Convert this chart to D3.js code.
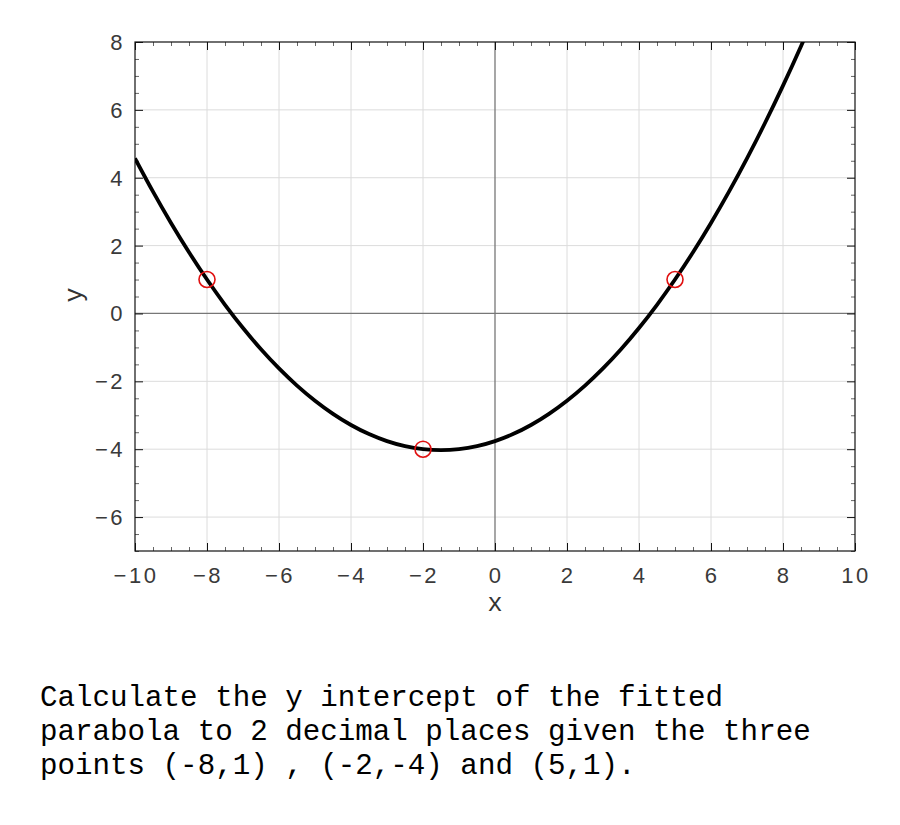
<!DOCTYPE html>
<html><head><meta charset="utf-8">
<script src="https://cdn.jsdelivr.net/npm/d3@7/dist/d3.min.js"></script>
<style>body{margin:0;background:#fff}svg{display:block}</style>
</head><body>
<svg id="c" width="900" height="825"></svg>
<script>
// Data
const curveX = [-10,-9.5,-9,-8.5,-8,-7.5,-7,-6.5,-6,-5.5,-5,-4.5,-4,-3.5,-3,-2.5,-2,-1.5,-1,-0.5,0,0.5,1,1.5,2,2.5,3,3.5,4,4.5,5,5.5,6,6.5,7,7.5,8,8.5,9];
const curveY = [4.571,3.589,2.667,1.804,1,0.256,-0.429,-1.054,-1.619,-2.125,-2.571,-2.958,-3.286,-3.554,-3.762,-3.911,-4,-4.030,-4,-3.911,-3.762,-3.554,-3.286,-2.958,-2.571,-2.125,-1.619,-1.054,-0.429,0.256,1,1.804,2.667,3.589,4.571,5.613,6.714,7.875,9.095];
const pointX = [-8,-2,5];
const pointY = [1,-4,1];
const xTicks = [-10,-8,-6,-4,-2,0,2,4,6,8,10];
const yTicks = [-6,-4,-2,0,2,4,6,8];
const questionLines = [
  "Calculate the y intercept of the fitted",
  "parabola to 2 decimal places given the three",
  "points (-8,1) , (-2,-4) and (5,1)."
];

const svg = d3.select("#c");
const L=135, R=855, T=42, B=551;
const x = d3.scaleLinear().domain([-10,10]).range([L,R]);
const y = d3.scaleLinear().domain([-7,8]).range([B,T]);
const minorX = d3.range(-10,10.01,0.5).filter(v=>Math.abs(v%2)>1e-9);
const minorY = d3.range(-7,8.01,0.5).filter(v=>Math.abs(v%2)>1e-9);

// grid
const g = svg.append("g");
g.selectAll(".gx").data(xTicks.filter(v=>v!==-10&&v!==10&&v!==0)).join("line")
  .attr("x1",d=>x(d)).attr("x2",d=>x(d)).attr("y1",T).attr("y2",B)
  .attr("stroke","#dcdcdc").attr("stroke-width",1);
g.selectAll(".gy").data(yTicks.filter(v=>v!==8&&v!==0)).join("line")
  .attr("y1",d=>y(d)).attr("y2",d=>y(d)).attr("x1",L).attr("x2",R)
  .attr("stroke","#dcdcdc").attr("stroke-width",1);
// zero lines
g.append("line").attr("x1",x(0)).attr("x2",x(0)).attr("y1",T).attr("y2",B).attr("stroke","#777").attr("stroke-width",1.3);
g.append("line").attr("y1",y(0)).attr("y2",y(0)).attr("x1",L).attr("x2",R).attr("stroke","#777").attr("stroke-width",1.3);

// axes with inward ticks
function tickStyle(sel,color){sel.select(".domain").remove();sel.selectAll("text").remove();sel.selectAll("line").attr("stroke",color);}
svg.append("g").attr("transform",`translate(0,${B})`).call(d3.axisTop(x).tickValues(xTicks).tickSize(8)).call(s=>tickStyle(s,"#111"));
svg.append("g").attr("transform",`translate(0,${B})`).call(d3.axisTop(x).tickValues(minorX).tickSize(4)).call(s=>tickStyle(s,"#666"));
svg.append("g").attr("transform",`translate(0,${T})`).call(d3.axisBottom(x).tickValues(xTicks).tickSize(8)).call(s=>tickStyle(s,"#111"));
svg.append("g").attr("transform",`translate(0,${T})`).call(d3.axisBottom(x).tickValues(minorX).tickSize(4)).call(s=>tickStyle(s,"#666"));
svg.append("g").attr("transform",`translate(${L},0)`).call(d3.axisRight(y).tickValues(yTicks).tickSize(8)).call(s=>tickStyle(s,"#111"));
svg.append("g").attr("transform",`translate(${L},0)`).call(d3.axisRight(y).tickValues(minorY).tickSize(4)).call(s=>tickStyle(s,"#666"));
svg.append("g").attr("transform",`translate(${R},0)`).call(d3.axisLeft(y).tickValues(yTicks).tickSize(8)).call(s=>tickStyle(s,"#111"));
svg.append("g").attr("transform",`translate(${R},0)`).call(d3.axisLeft(y).tickValues(minorY).tickSize(4)).call(s=>tickStyle(s,"#666"));

// frame
svg.append("rect").attr("x",L).attr("y",T).attr("width",R-L).attr("height",B-T)
  .attr("fill","none").attr("stroke","#111").attr("stroke-width",1.2);

// tick labels
const fmt = v => (v<0?"\u2212":"")+Math.abs(v);
svg.append("g").selectAll("text").data(xTicks).join("text")
  .attr("x",d=>x(d)+1).attr("y",583).attr("text-anchor","middle")
  .attr("font-family","Liberation Sans, Arial, sans-serif").attr("font-size",22)
  .attr("letter-spacing","2.5px").attr("fill","#3a3a3a").text(fmt);
svg.append("g").selectAll("text").data(yTicks).join("text")
  .attr("x",125).attr("y",d=>y(d)).attr("dy","0.36em").attr("text-anchor","end")
  .attr("font-family","Liberation Sans, Arial, sans-serif").attr("font-size",22)
  .attr("letter-spacing","2.5px").attr("fill","#3a3a3a").text(fmt);

// axis labels
svg.append("text").attr("x",x(0)).attr("y",611).attr("text-anchor","middle")
  .attr("font-family","Liberation Mono, Courier New, monospace").attr("font-size",25).attr("fill","#333").text("x");
svg.append("text").attr("transform","translate(82,295) rotate(-90)").attr("text-anchor","middle")
  .attr("font-family","Liberation Mono, Courier New, monospace").attr("font-size",25).attr("fill","#333").text("y");

// curve
svg.append("clipPath").attr("id","clip").append("rect").attr("x",L).attr("y",T).attr("width",R-L).attr("height",B-T);
const pts = curveX.map((v,i)=>[v,curveY[i]]);
svg.append("path").datum(pts).attr("clip-path","url(#clip)")
  .attr("d",d3.line().x(d=>x(d[0])).y(d=>y(d[1])).curve(d3.curveNatural))
  .attr("fill","none").attr("stroke","#000").attr("stroke-width",3.8);

// points
svg.append("g").selectAll("circle").data(pointX.map((v,i)=>[v,pointY[i]])).join("circle")
  .attr("cx",d=>x(d[0])).attr("cy",d=>y(d[1])).attr("r",8)
  .attr("fill","none").attr("stroke","#e01010").attr("stroke-width",1.6);

// question text
svg.append("g").selectAll("text").data(questionLines).join("text")
  .attr("x",40).attr("y",(d,i)=>706+i*34)
  .attr("font-family","Liberation Mono, Courier New, monospace").attr("font-size",29.2)
  .attr("fill","#000").attr("xml:space","preserve").style("white-space","pre").text(d=>d);
</script>
</body></html>
